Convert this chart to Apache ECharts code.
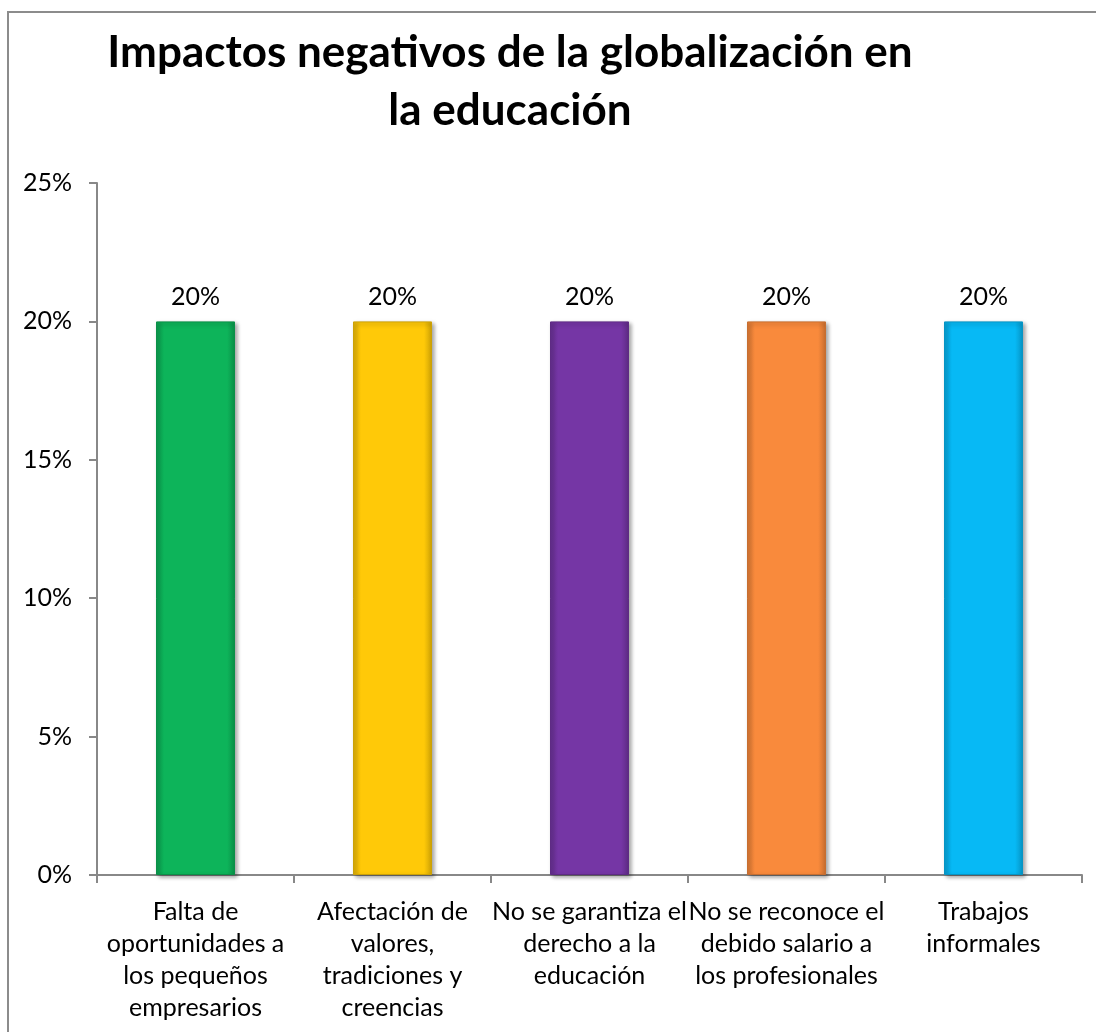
<!DOCTYPE html>
<html>
<head>
<meta charset="utf-8">
<script src="https://cdn.jsdelivr.net/npm/echarts@6/dist/echarts.min.js"></script>
<style>
  html, body { margin: 0; padding: 0; background: #fff; }
  #chart { width: 1096px; height: 1032px; }
</style>
</head>
<body>
<div id="chart"></div>
<script>
// datos del gráfico
var categories = [
  'Falta de\noportunidades a\nlos pequeños\nempresarios',
  'Afectación de\nvalores,\ntradiciones y\ncreencias',
  'No se garantiza el\nderecho a la\neducación',
  'No se reconoce el\ndebido salario a\nlos profesionales',
  'Trabajos\ninformales'
];
var values = [20, 20, 20, 20, 20];
var barColors = ['#0DB45A', '#FFC908', '#7536A5', '#F98A3C', '#07B9F5'];
var yTicks = [0, 5, 10, 15, 20, 25];

function shade(hex, f) {
  var n = parseInt(hex.slice(1), 16);
  var r = (n >> 16) & 255, g = (n >> 8) & 255, b = n & 255;
  r = Math.round(r * f); g = Math.round(g * f); b = Math.round(b * f);
  return 'rgb(' + r + ',' + g + ',' + b + ')';
}

// relleno con efecto de bisel
function bevel(c) {
  return new echarts.graphic.LinearGradient(0, 0, 1, 0, [
    { offset: 0, color: shade(c, 0.85) },
    { offset: 0.1, color: c },
    { offset: 0.9, color: c },
    { offset: 1, color: shade(c, 0.8) }
  ]);
}

var chart = echarts.init(document.getElementById('chart'));
chart.setOption({
  animation: false,
  textStyle: { fontFamily: 'Lato' },
  title: {
    text: 'Impactos negativos de la globalización en\nla educación',
    left: 505,
    top: 19,
    textAlign: 'center',
    textStyle: {
      fontFamily: 'Lato',
      fontWeight: 'bold',
      fontSize: 44,
      lineHeight: 58,
      color: '#000'
    }
  },
  graphic: [{
    type: 'rect',
    shape: { x: 8, y: 12, width: 1200, height: 1200 },
    style: { fill: 'none', stroke: '#8c8c8c', lineWidth: 2 },
    silent: true
  }],
  grid: { left: 97, right: 14, top: 183, bottom: 157 },
  xAxis: {
    type: 'category',
    data: categories,
    axisLine: { lineStyle: { color: '#888', width: 2 } },
    axisTick: { show: true, length: 8, lineStyle: { color: '#888', width: 2 } },
    axisLabel: {
      interval: 0,
      margin: 21,
      fontSize: 25,
      lineHeight: 32,
      color: '#000',
      align: 'center'
    }
  },
  yAxis: {
    type: 'value',
    min: yTicks[0],
    max: yTicks[yTicks.length - 1],
    interval: 5,
    axisLine: { show: true, lineStyle: { color: '#888', width: 2 } },
    axisTick: { show: true, length: 8, lineStyle: { color: '#888', width: 2 } },
    splitLine: { show: false },
    axisLabel: {
      margin: 25,
      fontSize: 25,
      color: '#000',
      formatter: '{value}%'
    }
  },
  series: [{
    type: 'bar',
    barWidth: 79,
    data: values.map(function (v, i) {
      return {
        value: v,
        itemStyle: {
          color: bevel(barColors[i]),
          borderColor: shade(barColors[i], 0.8),
          borderWidth: 1,
          shadowColor: 'rgba(0,0,0,0.35)',
          shadowBlur: 4,
          shadowOffsetX: 2,
          shadowOffsetY: 2
        }
      };
    }),
    label: {
      show: true,
      position: 'top',
      distance: 12,
      fontSize: 25,
      color: '#000',
      formatter: '{c}%'
    }
  }]
});
</script>
</body>
</html>
